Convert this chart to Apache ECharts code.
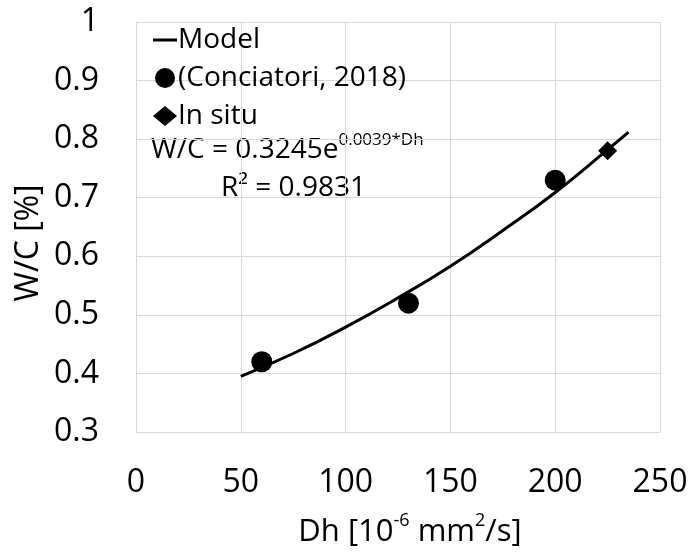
<!DOCTYPE html>
<html><head><meta charset="utf-8">
<script src="https://cdn.jsdelivr.net/npm/echarts@6/dist/echarts.min.js"></script>
<style>html,body{margin:0;padding:0;background:#fff}#c{width:694px;height:553px}</style>
</head><body><div id="c"></div>
<script>
// Model curve
const modelX = [50, 75, 100, 125, 150, 175, 200, 225, 235];
const modelY = [0.395, 0.434, 0.479, 0.529, 0.583, 0.644, 0.709, 0.782, 0.812];
// (Conciatori, 2018)
const concX = [60, 130, 200];
const concY = [0.42, 0.52, 0.73];
// In situ
const situX = [225];
const situY = [0.78];
const xTicks = [0, 50, 100, 150, 200, 250];
const yTicks = [0.3, 0.4, 0.5, 0.6, 0.7, 0.8, 0.9, 1];

const FONT = 'Open Sans';
const zip = (a, b) => a.map((v, i) => [v, b[i]]);
const chart = echarts.init(document.getElementById('c'), null, {renderer: 'canvas'});
chart.setOption({
  animation: false,
  textStyle: {fontFamily: FONT, color: '#000'},
  grid: {left: 136, right: 34, top: 22, bottom: 121},
  xAxis: {
    type: 'value', min: 0, max: 250, interval: 50,
    axisLine: {show: false}, axisTick: {show: false},
    splitLine: {show: true, lineStyle: {color: '#d9d9d9', width: 1}},
    axisLabel: {fontSize: 32, color: '#000', margin: 35, fontFamily: FONT,
      formatter: v => xTicks.includes(v) ? String(v) : ''}
  },
  yAxis: {
    type: 'value', min: 0.3, max: 1, interval: 0.1,
    axisLine: {show: false}, axisTick: {show: false},
    splitLine: {show: true, lineStyle: {color: '#d9d9d9', width: 1}},
    axisLabel: {fontSize: 32, color: '#000', margin: 37, fontFamily: FONT,
      formatter: v => { const t = yTicks.find(y => Math.abs(y - v) < 1e-6); return t === undefined ? '' : String(t); }}
  },
  legend: {
    orient: 'vertical', left: 148, top: 21, itemGap: 10,
    itemWidth: 24, itemHeight: 20,
    textStyle: {fontSize: 28, color: '#000', fontFamily: FONT, padding: [0, 0, 0, -4]},
    data: [
      {name: 'Model', icon: 'path://M0,0 L24,0 L24,3 L0,3 Z', itemStyle: {color: '#000'}},
      {name: '(Conciatori, 2018)', icon: 'circle', itemStyle: {color: '#000', opacity: 1}},
      {name: 'In situ', icon: 'diamond', itemStyle: {color: '#000', opacity: 1}}
    ]
  },
  graphic: [
    {type: 'text', x: 151, y: 132, style: {
      text: '{a|W/C = 0.3245e}{s|0.0039*Dh}', rich: {
        a: {fontSize: 28, fontFamily: FONT, fill: '#000', lineHeight: 32, verticalAlign: 'bottom'},
        s: {fontSize: 17, fontFamily: FONT, fill: '#000', lineHeight: 24, verticalAlign: 'top'}
      }}},
    {type: 'text', x: 221, y: 174, style: {
      text: 'R² = 0.9831', font: '28px "Open Sans"', fill: '#000'}},
    {type: 'text', x: 29, y: 243, rotation: Math.PI / 2, style: {
      text: 'W/C [%]', font: '32px "Open Sans"', fill: '#000', align: 'center', verticalAlign: 'middle'}},
    {type: 'text', x: 410, y: 530, style: {
      text: '{a|Dh [10}{s|-6}{a| mm}{s|2}{a|/s]}', align: 'center', verticalAlign: 'middle', rich: {
        a: {fontSize: 31, fontFamily: FONT, fill: '#000', lineHeight: 36, verticalAlign: 'bottom'},
        s: {fontSize: 18, fontFamily: FONT, fill: '#000', lineHeight: 26, verticalAlign: 'top'}
      }}}
  ],
  series: [
    {name: 'Model', type: 'line', data: zip(modelX, modelY), smooth: true, showSymbol: false,
      symbol: 'none', lineStyle: {color: '#000', width: 3}, itemStyle: {color: '#000'}, z: 2},
    {name: '(Conciatori, 2018)', type: 'scatter', data: zip(concX, concY), symbol: 'circle', symbolSize: 21,
      itemStyle: {color: '#000', opacity: 1}, z: 3},
    {name: 'In situ', type: 'scatter', data: zip(situX, situY), symbol: 'diamond', symbolSize: 19,
      itemStyle: {color: '#000', opacity: 1}, z: 3}
  ]
});
</script></body></html>
